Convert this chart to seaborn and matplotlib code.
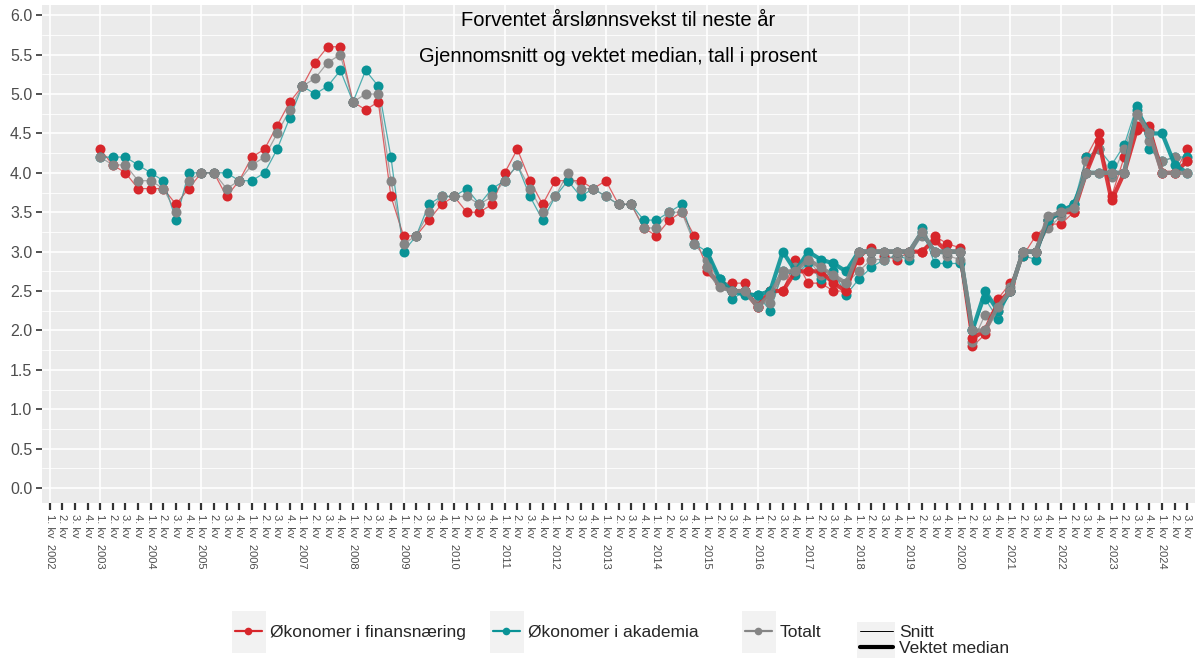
import numpy as np
import pandas as pd
import seaborn as sns
import matplotlib.pyplot as plt
from matplotlib.lines import Line2D
from matplotlib.patches import Rectangle

# Quarters from 1. kv 2002 to 3. kv 2024
quarter_labels = []
for year in range(2002, 2025):
    for q in range(1, 5):
        if year == 2024 and q == 4:
            break
        quarter_labels.append(f"{q}. kv  {year}" if q == 1 else f"{q}. kv")

# Snitt (average), 1. kv 2003 - 3. kv 2024
fin_snitt = [4.3, 4.1, 4.0, 3.8, 3.8, 3.8, 3.6, 3.8, 4.0, 4.0, 3.7, 3.9,
             4.2, 4.3, 4.6, 4.9, 5.1, 5.4, 5.6, 5.6, 4.9, 4.8, 4.9, 3.7,
             3.2, 3.2, 3.4, 3.6, 3.7, 3.5, 3.5, 3.6, 4.0, 4.3, 3.9, 3.6,
             3.9, 3.9, 3.9, 3.8, 3.9, 3.6, 3.6, 3.3, 3.2, 3.4, 3.5, 3.2,
             2.8, 2.6, 2.6, 2.6, 2.3, 2.5, 2.5, 2.9, 2.6, 2.6, 2.5, 2.5,
             2.9, 3.05, 2.95, 2.9, 3.0, 3.0, 3.2, 3.1, 3.05, 1.8, 1.95, 2.4,
             2.6, 2.95, 3.2, 3.35, 3.35, 3.5, 4.2, 4.5, 3.7, 4.2, 4.6, 4.6,
             4.0, 4.0, 4.3]
aka_snitt = [4.2, 4.2, 4.2, 4.1, 4.0, 3.9, 3.4, 4.0, 4.0, 4.0, 4.0, 3.9,
             3.9, 4.0, 4.3, 4.7, 5.1, 5.0, 5.1, 5.3, 4.9, 5.3, 5.1, 4.2,
             3.0, 3.2, 3.6, 3.7, 3.7, 3.8, 3.6, 3.8, 3.9, 4.1, 3.7, 3.4,
             3.7, 3.9, 3.7, 3.8, 3.7, 3.6, 3.6, 3.4, 3.4, 3.5, 3.6, 3.1,
             3.0, 2.65, 2.4, 2.5, 2.45, 2.25, 2.75, 2.7, 2.85, 2.65, 2.75, 2.45,
             2.65, 2.8, 2.9, 2.95, 2.9, 3.3, 2.85, 2.85, 2.85, 2.0, 2.4, 2.15,
             2.5, 2.95, 2.9, 3.4, 3.55, 3.6, 4.2, 4.3, 4.1, 4.35, 4.85, 4.3,
             4.15, 4.2, 4.2]
tot_snitt = [4.2, 4.1, 4.1, 3.9, 3.9, 3.8, 3.5, 3.9, 4.0, 4.0, 3.8, 3.9,
             4.1, 4.2, 4.5, 4.8, 5.1, 5.2, 5.4, 5.5, 4.9, 5.0, 5.0, 3.9,
             3.1, 3.2, 3.5, 3.7, 3.7, 3.7, 3.6, 3.7, 3.9, 4.1, 3.8, 3.5,
             3.7, 4.0, 3.8, 3.8, 3.7, 3.6, 3.6, 3.3, 3.3, 3.5, 3.5, 3.1,
             2.9, 2.6, 2.5, 2.5, 2.35, 2.35, 2.7, 2.8, 2.9, 2.7, 2.65, 2.6,
             2.75, 2.9, 2.9, 2.95, 2.95, 3.2, 3.0, 2.95, 2.9, 1.85, 2.2, 2.25,
             2.55, 3.0, 3.0, 3.3, 3.45, 3.55, 4.15, 4.3, 3.95, 4.3, 4.75, 4.4,
             4.15, 4.2, 4.15]

# Vektet median, 1. kv 2015 - 3. kv 2024
fin_median = [2.75, 2.6, 2.5, 2.5, 2.3, 2.5, 2.5, 2.75, 2.75, 2.75, 2.6, 2.5,
              3.0, 3.0, 3.0, 3.0, 3.0, 3.0, 3.15, 3.0, 3.0, 1.9, 2.0, 2.35,
              2.5, 3.0, 3.0, 3.4, 3.5, 3.5, 4.0, 4.4, 3.65, 4.0, 4.55, 4.55,
              4.0, 4.0, 4.15]
aka_median = [3.0, 2.65, 2.5, 2.45, 2.45, 2.5, 3.0, 2.75, 3.0, 2.9, 2.85, 2.75,
              3.0, 3.0, 3.0, 3.0, 3.0, 3.25, 3.0, 3.0, 3.0, 2.0, 2.5, 2.25,
              2.5, 3.0, 3.0, 3.4, 3.5, 3.6, 4.0, 4.0, 4.0, 4.0, 4.8, 4.5,
              4.5, 4.1, 4.0]
tot_median = [2.8, 2.55, 2.5, 2.5, 2.3, 2.45, 2.75, 2.75, 2.9, 2.8, 2.7, 2.6,
              3.0, 3.0, 3.0, 3.0, 3.0, 3.25, 3.0, 3.0, 3.0, 2.0, 2.0, 2.3,
              2.5, 3.0, 3.0, 3.45, 3.5, 3.55, 4.0, 4.0, 4.0, 4.0, 4.75, 4.5,
              4.0, 4.0, 4.0]

series_names = ["Økonomer i finansnæring", "Økonomer i akademia", "Totalt"]
colors = ["#D7262B", "#0A9396", "#858585"]

sns.set_theme(style="darkgrid")
plt.rcParams['font.family'] = ['Liberation Sans', 'DejaVu Sans']

fig = plt.figure(figsize=(11.96, 6.58), dpi=100)
W, H = 1196, 658
ax = fig.add_axes([42 / W, 1 - 503 / H, (1195 - 42) / W, (503 - 5) / H])
ax.set_facecolor("#EBEBEB")

x_snitt = np.arange(4, 4 + len(fin_snitt))
x_median = np.arange(52, 52 + len(fin_median))

# thin lines (snitt), solid points on top
for vals, col in zip([fin_snitt, aka_snitt, tot_snitt], colors):
    sns.lineplot(x=x_snitt, y=vals, ax=ax, color=col, linewidth=0.9, alpha=0.7, legend=False)
    sns.scatterplot(x=x_snitt, y=vals, ax=ax, color=col, s=52, linewidth=0, legend=False, zorder=3)
# thick lines (vektet median)
for vals, col in zip([fin_median, aka_median, tot_median], colors):
    sns.lineplot(x=x_median, y=vals, ax=ax, color=col, linewidth=3.0, alpha=0.9, legend=False, zorder=4)
    sns.scatterplot(x=x_median, y=vals, ax=ax, color=col, s=52, linewidth=0, legend=False, zorder=4)

ax.set_xlim(-0.6, 90.6)
ax.set_ylim(-0.19, 6.13)
ax.set_yticks(np.arange(0, 6.01, 0.5))
ax.set_yticklabels([f"{v:.1f}" for v in np.arange(0, 6.01, 0.5)], fontsize=11.5, color="#4D4D4D")
ax.set_yticks(np.arange(0.25, 6.0, 0.5), minor=True)
ax.set_xticks(np.arange(len(quarter_labels)))
ax.set_xticklabels(quarter_labels, rotation=-90, fontsize=8, color="#4D4D4D", va="top", ha="center")
ax.set_xlabel("")
ax.set_ylabel("")

ax.grid(False)
for yv in np.arange(0, 6.01, 0.5):
    ax.axhline(yv, color="white", linewidth=1.2, zorder=0.5)
for yv in np.arange(0.25, 6.0, 0.5):
    ax.axhline(yv, color="white", linewidth=0.6, zorder=0.5)
for xv in range(0, 91, 4):
    ax.axvline(xv, color="white", linewidth=1.2, zorder=0.5)

ax.tick_params(axis="x", which="major", length=5, width=1.6, color="#333333", pad=3, bottom=True)
ax.tick_params(axis="y", which="major", length=4, width=1.2, color="#333333", pad=3, left=True)
ax.tick_params(axis="y", which="minor", length=0)
for s in ax.spines.values():
    s.set_visible(False)

ax.text(0.5, 0.968, "Forventet årslønnsvekst til neste år", transform=ax.transAxes,
        ha="center", va="center", fontsize=14.5, color="black")
ax.text(0.5, 0.896, "Gjennomsnitt og vektet median, tall i prosent", transform=ax.transAxes,
        ha="center", va="center", fontsize=14.5, color="black")

# legend: key boxes
def fig_rect(x0, y0, x1, y1):
    fig.patches.append(Rectangle((x0 / W, 1 - y1 / H), (x1 - x0) / W, (y1 - y0) / H,
                                 transform=fig.transFigure, facecolor="#F2F2F2",
                                 edgecolor="none", zorder=0))

key_x = [232, 490, 742]
for x0 in key_x:
    fig_rect(x0, 611, x0 + 34, 653)
fig_rect(857, 622, 895, 659)

for name, col, x0 in zip(series_names, colors, key_x):
    h = Line2D([], [], color=col, linewidth=1.6, marker="o", markersize=5.5, markeredgewidth=0)
    fig.legend(handles=[h], labels=[name], loc="center left",
               bbox_to_anchor=((x0 + 3) / W, 1 - 632 / H), frameon=False, fontsize=12.5,
               handlelength=1.55, handletextpad=0.45, borderpad=0, borderaxespad=0)

h1 = Line2D([], [], color="black", linewidth=0.7)
h2 = Line2D([], [], color="black", linewidth=3.0)
fig.legend(handles=[h1, h2], labels=["Snitt", "Vektet median"], loc="center left",
           bbox_to_anchor=(860 / W, 1 - 640.5 / H), frameon=False, fontsize=12.5,
           handlelength=1.9, handletextpad=0.35, borderpad=0, borderaxespad=0,
           labelspacing=0.05)

fig.savefig("out.png", dpi=100)
